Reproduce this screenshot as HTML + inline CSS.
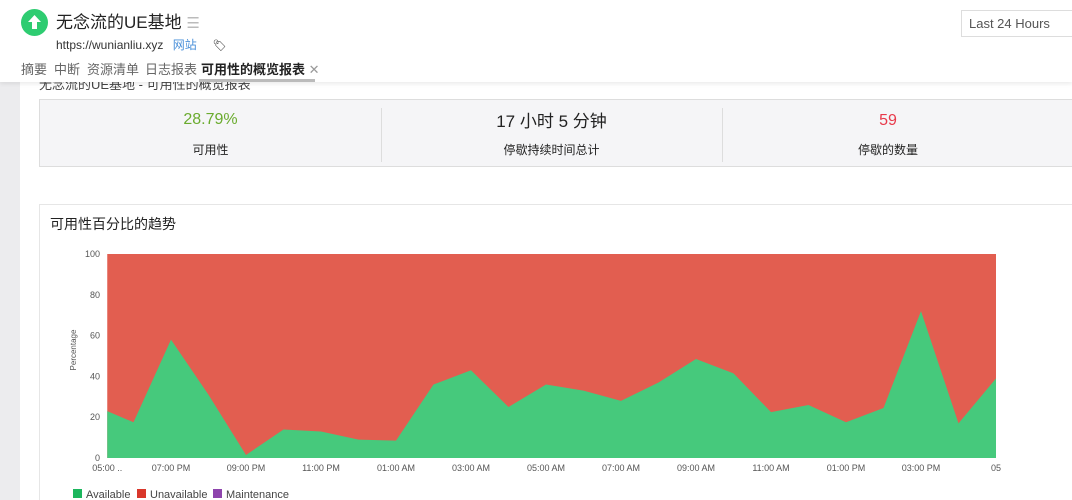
<!DOCTYPE html>
<html style="width:1072px;height:500px;overflow:hidden"><head><meta charset="utf-8">
<style>
html,body{margin:0;width:1072px;height:500px;overflow:hidden}
body{background:#fff;font-family:"Liberation Sans","Noto Sans CJK SC",sans-serif;position:relative}
.abs{position:absolute}
#header{left:0;top:0;width:1072px;height:82px;background:#fff;box-shadow:0 2px 4px rgba(0,0,0,0.08);z-index:5}
.tab{position:absolute;top:59px;font-size:13px;color:#666}
</style></head><body>
<div class="abs" style="left:0;top:82px;width:20px;height:418px;background:#ececee"></div>
<div class="abs" style="left:39px;top:74px;font-size:13px;color:#444">无念流的UE基地 - 可用性的概览报表</div>
<div id="header" class="abs">
  <div class="abs" style="left:21px;top:9px;width:27px;height:27px;border-radius:50%;background:#2ecc71">
    <svg width="27" height="27" viewBox="0 0 27 27"><path d="M13.5 6 L20 13 L16 13 L16 20 L11 20 L11 13 L7 13 Z" fill="#fff"/></svg>
  </div>
  <div class="abs" style="left:56px;top:8px;font-size:17px;color:#222">无念流的UE基地 <span style="color:#bbb;font-size:15px">☰</span></div>
  <div class="abs" style="left:56px;top:36px;font-size:12px;color:#333">https://wunianliu.xyz <span style="color:#4a90d9;margin-left:6px">网站</span><span style="margin-left:16px;font-size:11px;color:#222">🏷</span></div>
  <div class="abs" style="left:961px;top:10px;width:120px;height:27px;border:1px solid #ddd;box-sizing:border-box;font-size:13px;color:#555;padding:5px 0 0 7px">Last 24 Hours</div>
  <div class="tab" style="left:21px">摘要</div>
  <div class="tab" style="left:54px">中断</div>
  <div class="tab" style="left:87px">资源清单</div>
  <div class="tab" style="left:145px">日志报表</div>
  <div class="tab" style="left:201px;color:#222;font-weight:bold">可用性的概览报表 <span style="color:#999;font-weight:normal">✕</span></div>
  <div class="abs" style="left:199px;top:79px;width:116px;height:3px;background:#bbb"></div>
</div>
<div class="abs" style="left:39px;top:99px;width:1040px;height:68px;background:#f5f5f7;border:1px solid #ddd;box-sizing:border-box">
  <div class="abs" style="left:341px;top:8px;width:1px;height:54px;background:#ddd"></div>
  <div class="abs" style="left:682px;top:8px;width:1px;height:54px;background:#ddd"></div>
  <div class="abs" style="left:0;width:341px;top:11px;text-align:center;font-size:16px;color:#6aab2e">28.79%</div>
  <div class="abs" style="left:0;width:341px;top:41px;text-align:center;font-size:12px;color:#222">可用性</div>
  <div class="abs" style="left:341px;width:341px;top:7px;text-align:center;font-size:17px;color:#222">17 小时 5 分钟</div>
  <div class="abs" style="left:341px;width:341px;top:41px;text-align:center;font-size:12px;color:#222">停歇持续时间总计</div>
  <div class="abs" style="left:682px;width:332px;top:12px;text-align:center;font-size:16px;color:#e8394a">59</div>
  <div class="abs" style="left:682px;width:332px;top:41px;text-align:center;font-size:12px;color:#222">停歇的数量</div>
</div>
<div class="abs" style="left:39px;top:204px;width:1040px;height:300px;border:1px solid #e6e6e6;box-sizing:border-box">
  <div class="abs" style="left:10px;top:9px;font-size:14px;color:#222">可用性百分比的趋势</div>
</div>
<svg class="abs" style="left:0;top:0" width="1072" height="500" id="chart"></svg>
<script>
const hours=[0.3,1,2,3,4,5,6,7,8,9,10,11,12,13,14,15,16,17,18,19,20,21,22,23,24];
const available=[23,17.5,58,31,1.5,14,13,9,8.5,36,43,25,36,33,28,37,48.5,41.5,22.5,26,17.5,24.5,72,17,39];
const yTicks=[0,20,40,60,80,100];
const xTickHours=[2,4,6,8,10,12,14,16,18,20,22,24];
const xTickLabels=["07:00 PM","09:00 PM","11:00 PM","01:00 AM","03:00 AM","05:00 AM","07:00 AM","09:00 AM","11:00 AM","01:00 PM","03:00 PM","05"];
const NS="http://www.w3.org/2000/svg";
const svg=document.getElementById('chart');
const X=h=>96+h*37.5, Y=v=>458-v*2.04;
function mk(t,a){const e=document.createElementNS(NS,t);for(const k in a)e.setAttribute(k,a[k]);svg.appendChild(e);return e;}
const x0=X(hours[0]),x1=X(hours[hours.length-1]);
let r=mk('rect',{x:x0,y:Y(100),width:x1-x0,height:Y(0)-Y(100),fill:'#e25e50'});


let d='M'+x0+','+Y(0);
hours.forEach((h,i)=>{d+=' L'+X(h)+','+Y(available[i]);});
d+=' L'+x1+','+Y(0)+' Z';
let p=mk('path',{d:d,fill:'#46c97c'});


yTicks.forEach(v=>{const t=mk('text',{x:100,y:Y(v)+3,'text-anchor':'end','font-size':9,fill:'#555'});t.textContent=v;

});
let t0=mk('text',{x:X(hours[0]),y:471,'text-anchor':'middle','font-size':9,fill:'#555'});t0.textContent='05:00 ..';


xTickHours.forEach((h,i)=>{const t=mk('text',{x:X(h),y:471,'text-anchor':'middle','font-size':9,fill:'#555'});t.textContent=xTickLabels[i];

});
let yt=mk('text',{x:76,y:350,'text-anchor':'middle','font-size':8,fill:'#555',transform:'rotate(-90 76 350)'});yt.textContent='Percentage';


const leg=[['Available','#1cb65d',73],['Unavailable','#d9372b',137],['Maintenance','#8e44ad',213]];
leg.forEach(l=>{const g=mk('rect',{x:l[2],y:489,width:9,height:9,fill:l[1]});


const t=mk('text',{x:l[2]+13,y:498,'font-size':11,fill:'#444'});t.textContent=l[0];

});
</script>
</body></html>
